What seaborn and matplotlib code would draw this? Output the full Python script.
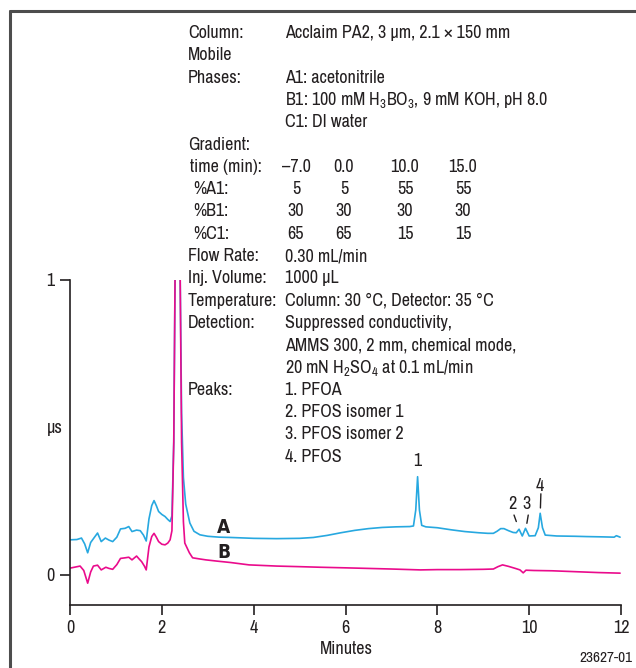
import numpy as np
import pandas as pd
import matplotlib
matplotlib.use("Agg")
import matplotlib.pyplot as plt
from matplotlib import font_manager
from matplotlib.lines import Line2D
import seaborn as sns

# trace A (blue) - time in minutes, response in uS
time_a = [0.00, 0.15, 0.25, 0.32, 0.385, 0.45, 0.52, 0.60, 0.68, 0.77, 0.85, 0.93,
          1.02, 1.10, 1.20, 1.28, 1.35, 1.45, 1.53, 1.60, 1.66, 1.72, 1.78, 1.83,
          1.88, 1.93, 2.00, 2.07, 2.13, 2.18, 2.22, 2.26, 2.29, 2.32, 2.355, 2.385,
          2.40, 2.43, 2.47, 2.52, 2.61, 2.70, 2.83, 3.00, 3.25, 3.50, 4.00, 4.50,
          5.00, 5.30, 5.60, 5.90, 6.20, 6.50, 6.80, 7.10, 7.40, 7.48, 7.53, 7.57,
          7.61, 7.66, 7.75, 8.00, 8.30, 8.60, 8.90, 9.10, 9.22, 9.30, 9.38, 9.45,
          9.55, 9.65, 9.72, 9.78, 9.85, 9.92, 10.00, 10.13, 10.20, 10.24, 10.29, 10.35,
          10.60, 11.00, 11.25, 11.60, 11.85, 11.90, 11.98]
resp_a = [0.119, 0.120, 0.125, 0.105, 0.075, 0.110, 0.125, 0.142, 0.113, 0.125, 0.118, 0.113,
          0.128, 0.156, 0.158, 0.164, 0.147, 0.152, 0.150, 0.135, 0.115, 0.190, 0.235, 0.252,
          0.235, 0.215, 0.205, 0.198, 0.188, 0.181, 0.200, 0.450, 1.050, 2.5, 2.5, 1.5,
          1.0, 0.55, 0.33, 0.24, 0.176, 0.148, 0.136, 0.131, 0.128, 0.127, 0.124, 0.123,
          0.124, 0.127, 0.134, 0.143, 0.151, 0.157, 0.161, 0.163, 0.164, 0.166, 0.22, 0.333,
          0.22, 0.168, 0.163, 0.160, 0.153, 0.147, 0.143, 0.141, 0.141, 0.148, 0.157, 0.157,
          0.150, 0.144, 0.143, 0.155, 0.132, 0.158, 0.132, 0.133, 0.16, 0.209, 0.16, 0.135,
          0.132, 0.131, 0.130, 0.129, 0.128, 0.133, 0.128]

# trace B (magenta)
time_b = [0.00, 0.22, 0.30, 0.385, 0.45, 0.51, 0.60, 0.68, 0.78, 0.85, 0.93, 1.02,
          1.10, 1.20, 1.28, 1.35, 1.45, 1.50, 1.56, 1.62, 1.66, 1.72, 1.78, 1.83,
          1.88, 1.93, 2.00, 2.07, 2.13, 2.18, 2.22, 2.26, 2.29, 2.32, 2.355, 2.385,
          2.40, 2.43, 2.47, 2.50, 2.60, 2.67, 2.83, 2.96, 3.19, 3.50, 3.90, 4.50,
          5.00, 5.45, 6.00, 6.50, 7.00, 7.63, 8.00, 8.50, 9.00, 9.22, 9.32, 9.42,
          9.55, 9.70, 9.80, 9.87, 9.93, 10.10, 10.50, 11.00, 11.50, 11.98]
resp_b = [0.023, 0.030, 0.015, -0.028, 0.010, 0.030, 0.033, 0.017, 0.026, 0.022, 0.019, 0.035,
          0.056, 0.058, 0.060, 0.051, 0.064, 0.055, 0.045, 0.030, 0.017, 0.095, 0.130, 0.141,
          0.128, 0.113, 0.104, 0.102, 0.108, 0.119, 0.15, 0.45, 1.05, 2.5, 2.5, 1.5,
          1.0, 0.45, 0.18, 0.108, 0.075, 0.058, 0.054, 0.051, 0.047, 0.042, 0.034, 0.030,
          0.028, 0.026, 0.024, 0.022, 0.020, 0.017, 0.018, 0.018, 0.019, 0.020, 0.028, 0.034,
          0.029, 0.022, 0.017, 0.007, 0.016, 0.015, 0.014, 0.011, 0.008, 0.006]

x_ticks = [0, 2, 4, 6, 8, 10, 12]
y_ticks = [0, 1]
peak_labels = ["1", "2", "3", "4"]

# look for a condensed sans, the original artwork uses one
ttf = font_manager.fontManager.ttflist
names = sorted({f.name for f in ttf})
narrow = [n for n in names if "Narrow" in n or "Condensed" in n]
FONT = narrow[:1] + ["Liberation Sans", "DejaVu Sans"]
SCALE = 1.0 if narrow else 0.84
FS = 13 * SCALE

bold_files = [f.fname for f in ttf
              if ("Narrow" in f.name or "Condensed" in f.name or "Narrow" in f.fname
                  or "Condensed" in f.fname)
              and (str(f.weight) in ("700", "800", "bold") or "Bold" in f.fname)
              and "Italic" not in f.fname]
if bold_files:
    bold_prop = font_manager.FontProperties(fname=sorted(bold_files)[0], size=FS * 1.05)
else:
    bold_prop = font_manager.FontProperties(family=FONT, weight="bold", size=FS * 0.95)

BLUE = "#27a8e0"
MAGENTA = "#ea0b8c"
INK = "#231f20"
W, H = 636, 668

sns.set_theme(style="white")
plt.rcParams["font.family"] = FONT
plt.rcParams["mathtext.fontset"] = "custom"
plt.rcParams["mathtext.rm"] = FONT[0]
plt.rcParams["text.color"] = INK


def fx(x):
    return x / W


def fy(y):
    return 1 - y / H


fig = plt.figure(figsize=(W / 100, H / 100), dpi=100)
ax = fig.add_axes([fx(70), fy(605), fx(621) - fx(70), fy(280) - fy(605)])

df_a = pd.DataFrame({"time": time_a, "resp": resp_a})
df_b = pd.DataFrame({"time": time_b, "resp": resp_b})
sns.lineplot(data=df_a, x="time", y="resp", ax=ax, color=BLUE, linewidth=1.2)
sns.lineplot(data=df_b, x="time", y="resp", ax=ax, color=MAGENTA, linewidth=1.2)

ax.set_xlim(0, 12)
ax.set_ylim(-0.102, 1.0)
ax.set_xticks(x_ticks)
ax.set_yticks(y_ticks)
ax.set_xlabel("")
ax.set_ylabel("")
ax.tick_params(axis="both", direction="out", length=7, width=1.2, color=INK,
               labelsize=FS, labelcolor=INK, pad=4, left=True, bottom=True)
sns.despine(ax=ax)
for side in ["left", "bottom"]:
    ax.spines[side].set_color(INK)
    ax.spines[side].set_linewidth(1.2)

# peak numbers and leader marks
ax.text(7.57, 0.36, peak_labels[0], ha="center", va="bottom", fontsize=FS)
ax.text(9.63, 0.212, peak_labels[1], ha="center", va="bottom", fontsize=FS)
ax.text(9.95, 0.212, peak_labels[2], ha="center", va="bottom", fontsize=FS)
ax.text(10.24, 0.275, peak_labels[3], ha="center", va="bottom", fontsize=FS)
ax.plot([9.67, 9.72], [0.203, 0.181], color=INK, lw=1)
ax.plot([9.98, 9.95], [0.203, 0.175], color=INK, lw=1)
ax.plot([10.255, 10.245], [0.275, 0.227], color=INK, lw=1)
ax.text(3.35, 0.13, "A", ha="center", va="bottom", fontproperties=bold_prop)
ax.text(3.35, 0.045, "B", ha="center", va="bottom", fontproperties=bold_prop)

# outer frame (top and left only)
fig.add_artist(Line2D([fx(10), fx(636)], [fy(11), fy(11)], color="#4d4d4d", lw=2.2))
fig.add_artist(Line2D([fx(10), fx(10)], [fy(11), fy(668)], color="#4d4d4d", lw=2.2))

# axis captions
fig.text(fx(55), fy(433), "µs", ha="center", va="baseline", fontsize=FS)
fig.text(fx(346), fy(654), "Minutes", ha="center", va="baseline", fontsize=FS)
fig.text(fx(632), fy(662), "23627-01", ha="right", va="baseline", fontsize=FS * 0.85)

# method conditions
rows = [
    ("Column:", "Acclaim PA2, 3 µm, 2.1 × 150 mm"),
    ("Mobile", ""),
    ("Phases:", "A1: acetonitrile"),
    ("", r"B1: 100 mM H$_\mathregular{3}$BO$_\mathregular{3}$, 9 mM KOH, pH 8.0"),
    ("", "C1: DI water"),
    ("Gradient:", ""),
    (None, None), (None, None), (None, None), (None, None),
    ("Flow Rate:", "0.30 mL/min"),
    ("Inj. Volume:", "1000 µL"),
    ("Temperature:", "Column: 30 °C, Detector: 35 °C"),
    ("Detection:", "Suppressed conductivity,"),
    ("", "AMMS 300, 2 mm, chemical mode,"),
    ("", r"20 mN H$_\mathregular{2}$SO$_\mathregular{4}$ at 0.1 mL/min"),
    ("Peaks:", "1. PFOA"),
    ("", "2. PFOS isomer 1"),
    ("", "3. PFOS isomer 2"),
    ("", "4. PFOS"),
]
grad_names = ["time (min):", "%A1:", "%B1:", "%C1:"]
grad_vals = [["–7.0", "0.0", "10.0", "15.0"],
             ["5", "5", "55", "55"],
             ["30", "30", "30", "30"],
             ["65", "65", "15", "15"]]
grad_cols = [296, 344, 405, 463]

base0, step = 38, 22.3
for i, (lab, val) in enumerate(rows):
    yb = fy(base0 + step * i)
    if lab is None:
        g = i - 6
        fig.text(fx(190 if g == 0 else 193), yb, grad_names[g], ha="left", va="baseline", fontsize=FS)
        for c, v in zip(grad_cols, grad_vals[g]):
            fig.text(fx(c), yb, v, ha="center", va="baseline", fontsize=FS)
        continue
    if lab:
        fig.text(fx(188), yb, lab, ha="left", va="baseline", fontsize=FS)
    if val:
        fig.text(fx(285), yb, val, ha="left", va="baseline", fontsize=FS)

fig.savefig("out.png", dpi=100)
